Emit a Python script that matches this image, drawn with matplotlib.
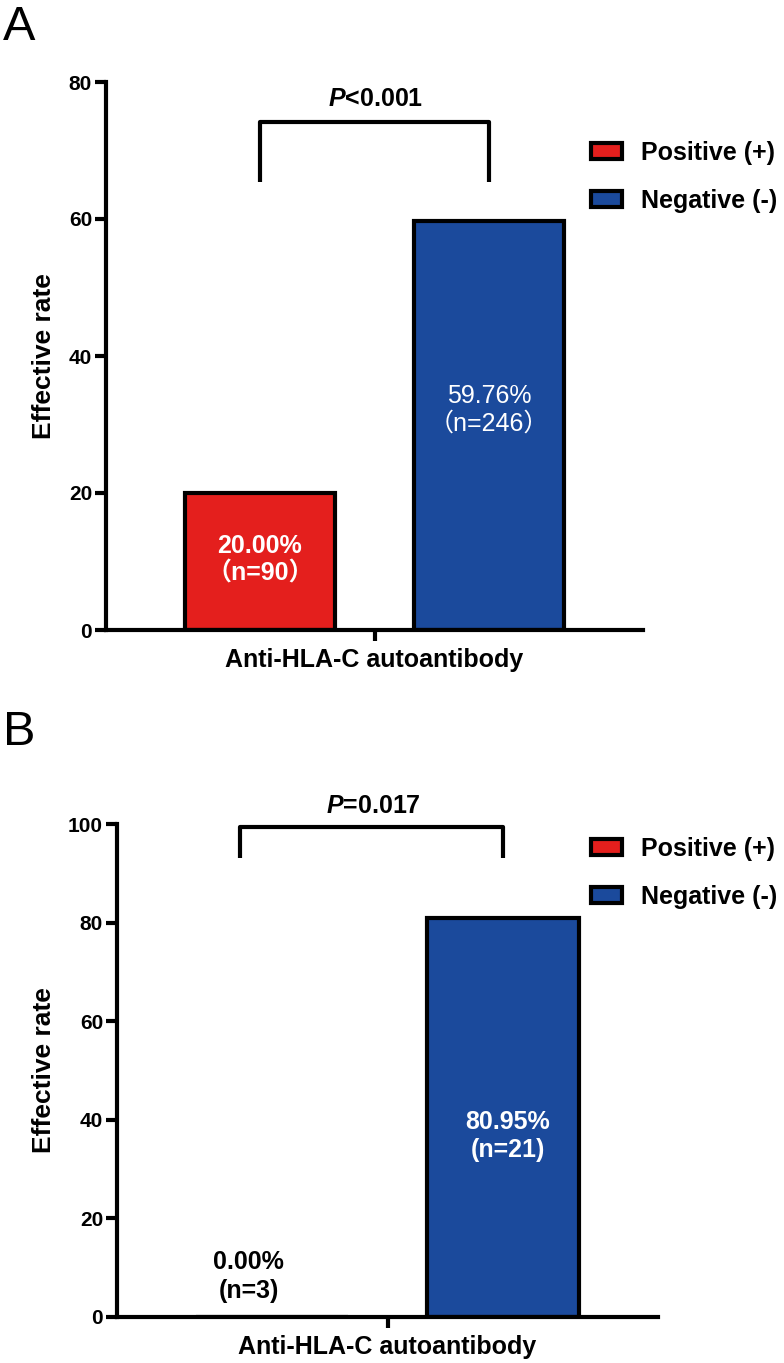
import numpy as np
import matplotlib
matplotlib.use("Agg")
import matplotlib.pyplot as plt

plt.rcParams["font.family"] = ["Liberation Sans", "Noto Sans CJK SC", "DejaVu Sans"]
plt.rcParams["mathtext.fontset"] = "custom"
plt.rcParams["mathtext.it"] = "Liberation Sans:italic:bold"
plt.rcParams["mathtext.rm"] = "Liberation Sans:bold"

groups = ["Positive (+)", "Negative (-)"]
colors = ["#E41F1D", "#1B4A9C"]

rate_a = [20.00, 59.76]
n_a = [90, 246]
pval_a = "<0.001"

rate_b = [0.00, 80.95]
n_b = [3, 21]
pval_b = "=0.017"

xlabel = "Anti-HLA-C autoantibody"
ylabel = "Effective rate"

fig = plt.figure(figsize=(7.84, 13.63), dpi=100)
W, H = 784, 1363


def make_axes(left, right, bottom, top):
    return fig.add_axes([left / W, 1 - bottom / H, (right - left) / W, (bottom - top) / H])


def style(ax, ymax):
    ax.set_xlim(-0.67, 1.67)
    ax.set_ylim(0, ymax)
    ax.set_yticks(np.arange(0, ymax + 1, 20))
    for s in ["top", "right"]:
        ax.spines[s].set_visible(False)
    for s in ["left", "bottom"]:
        ax.spines[s].set_linewidth(3)
    ax.set_xticks([0.5])
    ax.set_xticklabels([xlabel], fontsize=18, fontweight="bold")
    ax.tick_params(axis="x", length=8, width=3, pad=5)
    ax.tick_params(axis="y", length=8, width=3, labelsize=15, pad=2)
    for t in ax.get_yticklabels():
        t.set_fontweight("bold")
    ax.set_ylabel(ylabel, fontsize=19, fontweight="bold", labelpad=9)


def bracket(ax, x1, x2, y, y0, label):
    ax.plot([x1, x1, x2, x2], [y0, y, y, y0], color="black", lw=3,
            solid_capstyle="butt", clip_on=False)
    ax.text((x1 + x2) / 2 + 0.005, y + (ax.get_ylim()[1] * 0.019), r"$\mathit{P}$" + label,
            ha="center", va="bottom", fontsize=18, fontweight="bold")


def legend(ax, bars, y_anchor):
    ax.legend(bars, groups, loc="upper left",
              bbox_to_anchor=(591 / W, 1 - y_anchor / H), bbox_transform=fig.transFigure,
              frameon=False, prop={"weight": "bold", "size": 18},
              handlelength=1.25, handleheight=0.6, handletextpad=0.75,
              labelspacing=0.95, borderaxespad=0, borderpad=0)


# Panel A
ax1 = make_axes(106, 643, 630, 82)
bars1 = ax1.bar([0, 1], rate_a, width=0.655, color=colors,
                edgecolor="black", linewidth=3)
style(ax1, 80)
bracket(ax1, 0, 1, 74.2, 65.4, pval_a)
ax1.text(0, 12.3, f"{rate_a[0]:.2f}%", ha="center", va="center",
         color="white", fontsize=18, fontweight="bold")
ax1.text(0, 8.2, f"（n={n_a[0]}）", ha="center", va="center",
         color="white", fontsize=18, fontweight="bold")
ax1.text(1, 34.2, f"{rate_a[1]:.2f}%", ha="center", va="center",
         color="white", fontsize=18)
ax1.text(1, 30.1, f"（n={n_a[1]}）", ha="center", va="center",
         color="white", fontsize=18)
legend(ax1, bars1, 141)
fig.text(3 / W, 1 - 40 / H, "A", fontsize=35, va="baseline", ha="left")

# Panel B
ax2 = make_axes(117, 658, 1317, 824)
bars2 = ax2.bar([0, 1], rate_b, width=0.655, color=colors,
                edgecolor="black", linewidth=3)
style(ax2, 100)
bracket(ax2, -0.136, 1.0, 99.4, 93.1, pval_b)
ax2.text(-0.1, 11.2, f"{rate_b[0]:.2f}%", ha="center", va="center",
         color="black", fontsize=18, fontweight="bold")
ax2.text(-0.1, 5.3, f"(n={n_b[0]})", ha="center", va="center",
         color="black", fontsize=18, fontweight="bold")
ax2.text(1.02, 39.5, f"{rate_b[1]:.2f}%", ha="center", va="center",
         color="white", fontsize=18, fontweight="bold")
ax2.text(1.02, 33.9, f"(n={n_b[1]})", ha="center", va="center",
         color="white", fontsize=18, fontweight="bold")
legend(ax2, bars2, 837)
fig.text(3 / W, 1 - 745 / H, "B", fontsize=35, va="baseline", ha="left")

fig.savefig("out.png", dpi=100)
